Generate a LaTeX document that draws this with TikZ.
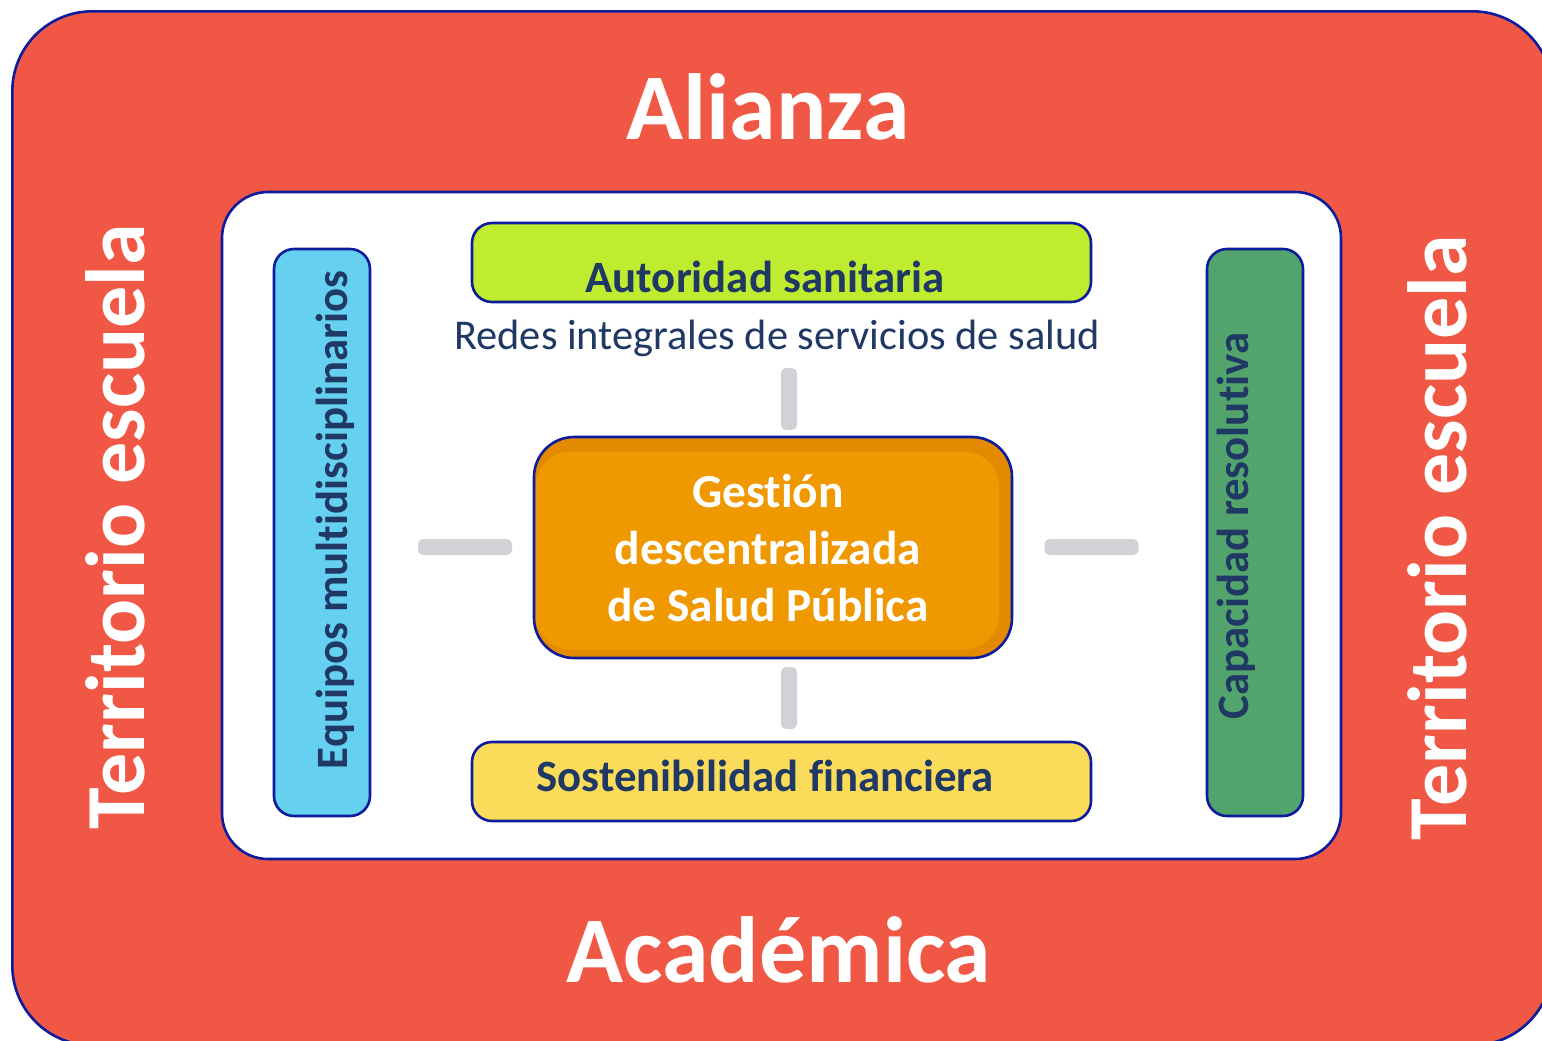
\documentclass[tikz,border=0pt]{standalone}
\usepackage{fontspec}
\setmainfont{Carlito}[Ligatures={NoCommon}, RawFeature={-liga;-dlig;-clig}]
\definecolor{redbg}{HTML}{F15745}
\definecolor{edge}{HTML}{0D1B9C}
\definecolor{cyanbox}{HTML}{65D0EF}
\definecolor{greenbox}{HTML}{52A46C}
\definecolor{limebox}{HTML}{C0EC30}
\definecolor{yellowbox}{HTML}{FBDC5A}
\definecolor{orangebox}{HTML}{F09800}
\definecolor{orangedark}{HTML}{E48A00}
\definecolor{navy}{HTML}{1F3864}
\definecolor{greybar}{HTML}{D0D2D6}
\tikzset{
  panel/.style={draw=edge, line width=1.3pt, rounded corners=10pt, inner sep=0pt},
  bar/.style={fill=greybar, draw=none, rounded corners=2.5pt, inner sep=0pt},
  bigtext/.style={text=white, font=\bfseries\fontsize{47}{56}\selectfont, inner sep=0pt},
  sidetext/.style={text=white, font=\bfseries\fontsize{42}{50}\selectfont, inner sep=0pt, rotate=90},
  boxtext/.style={text=navy, font=\bfseries\fontsize{22.4}{27}\selectfont, inner sep=0pt},
}
\begin{document}
\begin{tikzpicture}[x=0.5pt, y=-0.5pt]
\useasboundingbox (0,0) rectangle (1542,1040);
\clip (0,0) rectangle (1542,1040);
% outer red frame
\node[draw=edge, line width=1.3pt, fill=redbg, rounded corners=40pt, minimum width=770pt, minimum height=517pt, inner sep=0pt, anchor=north west] (outer) at (11,10) {};
% inner white panel
\node[draw=edge, line width=1.3pt, fill=white, rounded corners=23pt, minimum width=559.5pt, minimum height=333.5pt, inner sep=0pt] (inner) at (781.5,525.5) {};
% titles
\node[bigtext] (alianza) at (768,107) {Alianza};
\node[bigtext] (academica) at (779,950) {Académica};
\node[sidetext] (terrL) at (115,527) {Territorio escuela};
\node[sidetext] (terrR) at (1437,538) {Territorio escuela};
% side boxes
\node[panel, fill=cyanbox, minimum width=48pt, minimum height=283.5pt] (equipos) at (322,532.5) {};
\node[boxtext, rotate=90] (equiposT) at (335,520) {Equipos multidisciplinarios};
\node[panel, fill=greenbox, minimum width=48pt, minimum height=283.5pt] (capacidad) at (1255,532.5) {};
\node[boxtext, rotate=90] (capacidadT) at (1236,526) {Capacidad resolutiva};
% top and bottom boxes
\node[panel, fill=limebox, minimum width=309.5pt, minimum height=39.5pt] (autoridad) at (781.5,262.5) {};
\node[boxtext] (autoridadT) at (765,277) {Autoridad sanitaria};
\node[text=navy, font=\fontsize{21.2}{26}\selectfont, inner sep=0pt] (redes) at (777,338) {Redes integrales de servicios de salud};
\node[panel, fill=yellowbox, minimum width=309.5pt, minimum height=39.5pt] (sostenib) at (781.5,781.5) {};
\node[boxtext] (sostenibT) at (765,776) {Sostenibilidad financiera};
% center box
\node[draw=none, fill=orangedark, rounded corners=20pt, minimum width=239pt, minimum height=110.5pt, inner sep=0pt] (gestionbg) at (773,547.5) {};
\node[draw=none, fill=orangebox, rounded corners=18pt, minimum width=232pt, minimum height=99pt, inner sep=0pt, anchor=south west] (gestionin) at (535,650) {};
\node[draw=edge, line width=1.3pt, rounded corners=20pt, minimum width=239pt, minimum height=110.5pt, inner sep=0pt] (gestion) at (773,547.5) {};
\node[text=white, font=\bfseries\fontsize{23.7}{28.5}\selectfont, align=center, inner sep=0pt] (gestionT) at (768,548) {Gestión\\descentralizada\\de Salud Pública};
% grey bars
\node[bar, minimum width=8pt, minimum height=31pt] (barN) at (789,399) {};
\node[bar, minimum width=8pt, minimum height=31pt] (barS) at (789,698) {};
\node[bar, minimum width=47pt, minimum height=8pt] (barW) at (465,547) {};
\node[bar, minimum width=47pt, minimum height=8pt] (barE) at (1091.5,547) {};
\end{tikzpicture}
\end{document}
